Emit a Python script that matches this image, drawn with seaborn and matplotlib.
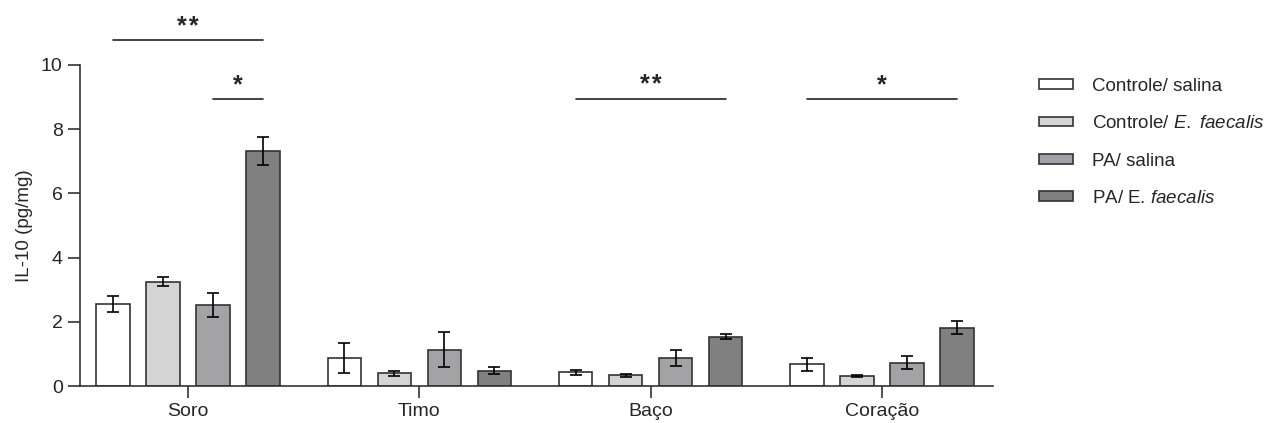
import numpy as np
import pandas as pd
import matplotlib
matplotlib.use('Agg')
import matplotlib.pyplot as plt
from matplotlib.patches import Patch
import seaborn as sns

# Dados (IL-10 em pg/mg, média e erro padrão)
orgaos = ['Soro', 'Timo', 'Baço', 'Coração']
grupos = ['Controle/ salina', 'Controle/ E. faecalis', 'PA/ salina', 'PA/ E. faecalis']

ctrl_salina = [2.56, 0.86, 0.43, 0.67]
ctrl_salina_ep = [0.25, 0.47, 0.08, 0.21]
ctrl_faecalis = [3.25, 0.39, 0.33, 0.31]
ctrl_faecalis_ep = [0.14, 0.08, 0.05, 0.03]
pa_salina = [2.52, 1.13, 0.86, 0.72]
pa_salina_ep = [0.38, 0.55, 0.25, 0.20]
pa_faecalis = [7.32, 0.48, 1.54, 1.81]
pa_faecalis_ep = [0.44, 0.10, 0.09, 0.20]

# Comparações significativas: (órgão, grupo inicial, grupo final, texto, altura)
comparacoes = [
    ('Soro', 0, 3, '**', 10.78),
    ('Soro', 2, 3, '*', 8.95),
    ('Baço', 0, 3, '**', 8.95),
    ('Coração', 0, 3, '*', 8.95),
]

legenda = ['Controle/ salina', 'Controle/ $\\it{E.\\ faecalis}$',
           'PA/ salina', 'PA/ E. $\\it{faecalis}$']
cores = ['#ffffff', '#d4d4d4', '#a2a2a6', '#808080']

sns.set_style('ticks')
plt.rcParams['font.family'] = ['Liberation Sans', 'DejaVu Sans']
plt.rcParams['mathtext.fontset'] = 'custom'
plt.rcParams['mathtext.rm'] = 'Liberation Sans'
plt.rcParams['mathtext.it'] = 'Liberation Sans:italic'

medias = [ctrl_salina, ctrl_faecalis, pa_salina, pa_faecalis]
erros = [ctrl_salina_ep, ctrl_faecalis_ep, pa_salina_ep, pa_faecalis_ep]
Base = pd.DataFrame({
    'Orgao': np.tile(orgaos, len(grupos)),
    'Grupo': np.repeat(grupos, len(orgaos)),
    'Valor': np.concatenate(medias),
    'EP': np.concatenate(erros),
})

fig = plt.figure(figsize=(12.69, 4.23), dpi=100)
ax = fig.add_axes([80 / 1269, 37 / 423, 913 / 1269, 321 / 423])

sns.barplot(data=Base, x='Orgao', y='Valor', hue='Grupo', order=orgaos, hue_order=grupos,
            palette=cores, width=0.865, gap=0.33, errorbar=None,
            edgecolor='#333333', linewidth=1.2, legend=False, ax=ax)

# barras de erro no centro de cada barra
barras = ax.patches[:len(grupos) * len(orgaos)]
centros = {}
for i, g in enumerate(grupos):
    for j, o in enumerate(orgaos):
        b = barras[i * len(orgaos) + j]
        cx = b.get_x() + b.get_width() / 2
        centros[(o, i)] = cx
        ax.errorbar(cx, medias[i][j], yerr=erros[i][j], color='black',
                    linewidth=1.2, capsize=4, capthick=1.2, zorder=3)

ax.set_xlim(-0.467, 3.48)
ax.set_ylim(0, 10)
ax.set_yticks([0, 2, 4, 6, 8, 10])
ax.set_xlabel('')
ax.set_ylabel('IL-10 (pg/mg)', fontsize=13.5, labelpad=6)
ax.tick_params(axis='both', labelsize=14, length=8.5, width=1.2, pad=4, color='#333333')
for lado in ['left', 'bottom']:
    ax.spines[lado].set_linewidth(1.2)
    ax.spines[lado].set_color('#333333')
sns.despine(ax=ax)

# linhas de significância
for o, g1, g2, txt, h in comparacoes:
    x1, x2 = centros[(o, g1)], centros[(o, g2)]
    ax.plot([x1, x2], [h, h], color='#222222', linewidth=1.2, clip_on=False)
    ax.text((x1 + x2) / 2, h + 0.2, '\u200a'.join(txt), ha='center', va='baseline',
            fontsize=18, fontweight='bold', clip_on=False)

handles = [Patch(facecolor=c, edgecolor='#333333', linewidth=1.2) for c in cores]
fig.legend(handles, legenda, loc='upper left', bbox_to_anchor=(1039 / 1269, 1 - 78 / 423),
           frameon=False, fontsize=13.5, handlelength=1.8, handleheight=0.43,
           handletextpad=1.0, labelspacing=1.08, borderpad=0, borderaxespad=0)

plt.savefig('out.png', dpi=100)
